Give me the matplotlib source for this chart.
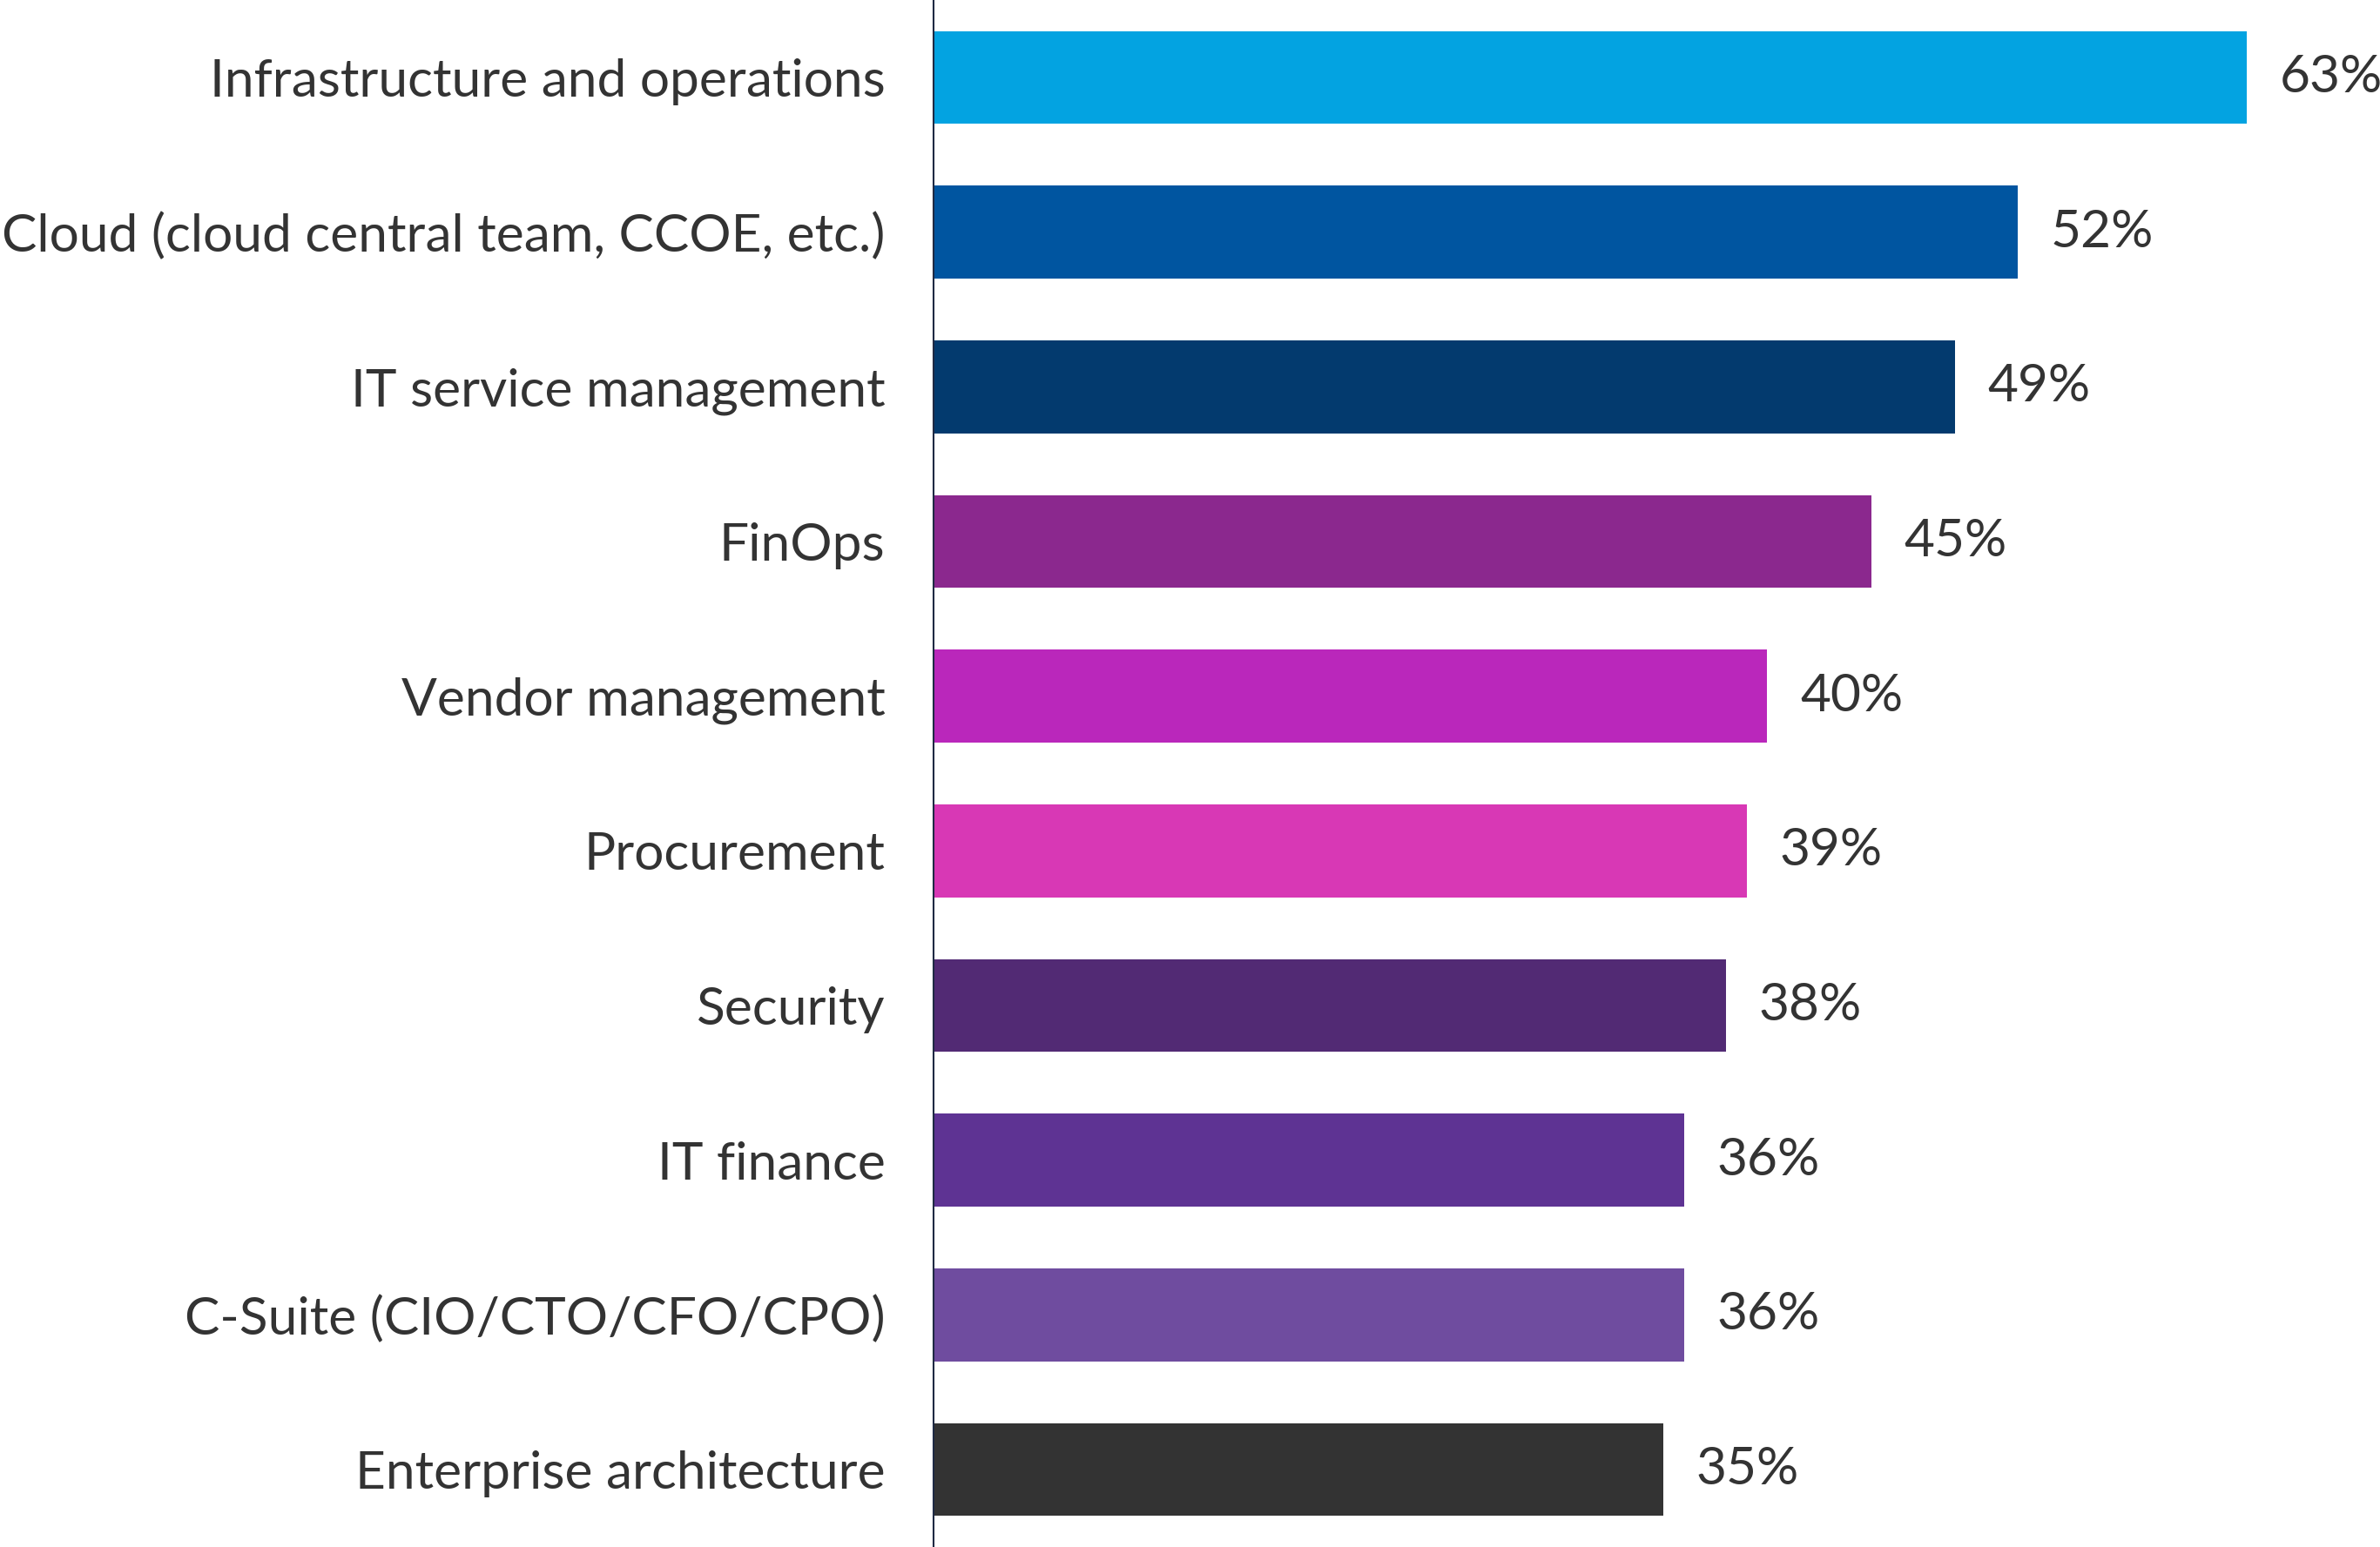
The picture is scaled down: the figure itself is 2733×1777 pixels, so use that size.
import matplotlib
matplotlib.use("Agg")
import matplotlib.pyplot as plt

categories = [
    "Infrastructure and operations",
    "Cloud (cloud central team, CCOE, etc.)",
    "IT service management",
    "FinOps",
    "Vendor management",
    "Procurement",
    "Security",
    "IT finance",
    "C-Suite (CIO/CTO/CFO/CPO)",
    "Enterprise architecture",
]
values = [63, 52, 49, 45, 40, 39, 38, 36, 36, 35]
colors = ["#03A3E1", "#0055A0", "#033A6E", "#8B288E", "#BA27BB",
          "#D838B5", "#522A74", "#5E3393", "#6F4C9F", "#333333"]

plt.rcParams['font.family'] = ['Lato', 'DejaVu Sans']
text_color = "#333333"

fig = plt.figure(figsize=(27.33, 17.77), dpi=100)
ax = fig.add_axes([1072 / 2733, 0, 1 - 1072 / 2733, 1])

y = list(range(len(categories)))
ax.barh(y, values, height=0.6, color=colors)
ax.set_ylim(len(categories) - 0.5, -0.5)
ax.set_xlim(0, (2733 - 1072) / ((2580 - 1072) / 63))

ax.set_yticks(y)
ax.set_yticklabels(categories, fontsize=43.5, color=text_color)
ax.tick_params(axis='y', length=0, pad=40)
ax.set_xticks([])

for s in ['top', 'right', 'bottom']:
    ax.spines[s].set_visible(False)
ax.spines['left'].set_color("#1f2a44")
ax.spines['left'].set_linewidth(1.5)

for yi, v in zip(y, values):
    ax.annotate(f"{v}%", xy=(v, yi), xytext=(27, 0), textcoords='offset points',
                va='center', ha='left', fontsize=43.5, color=text_color)

fig.savefig("out.png", dpi=100)
